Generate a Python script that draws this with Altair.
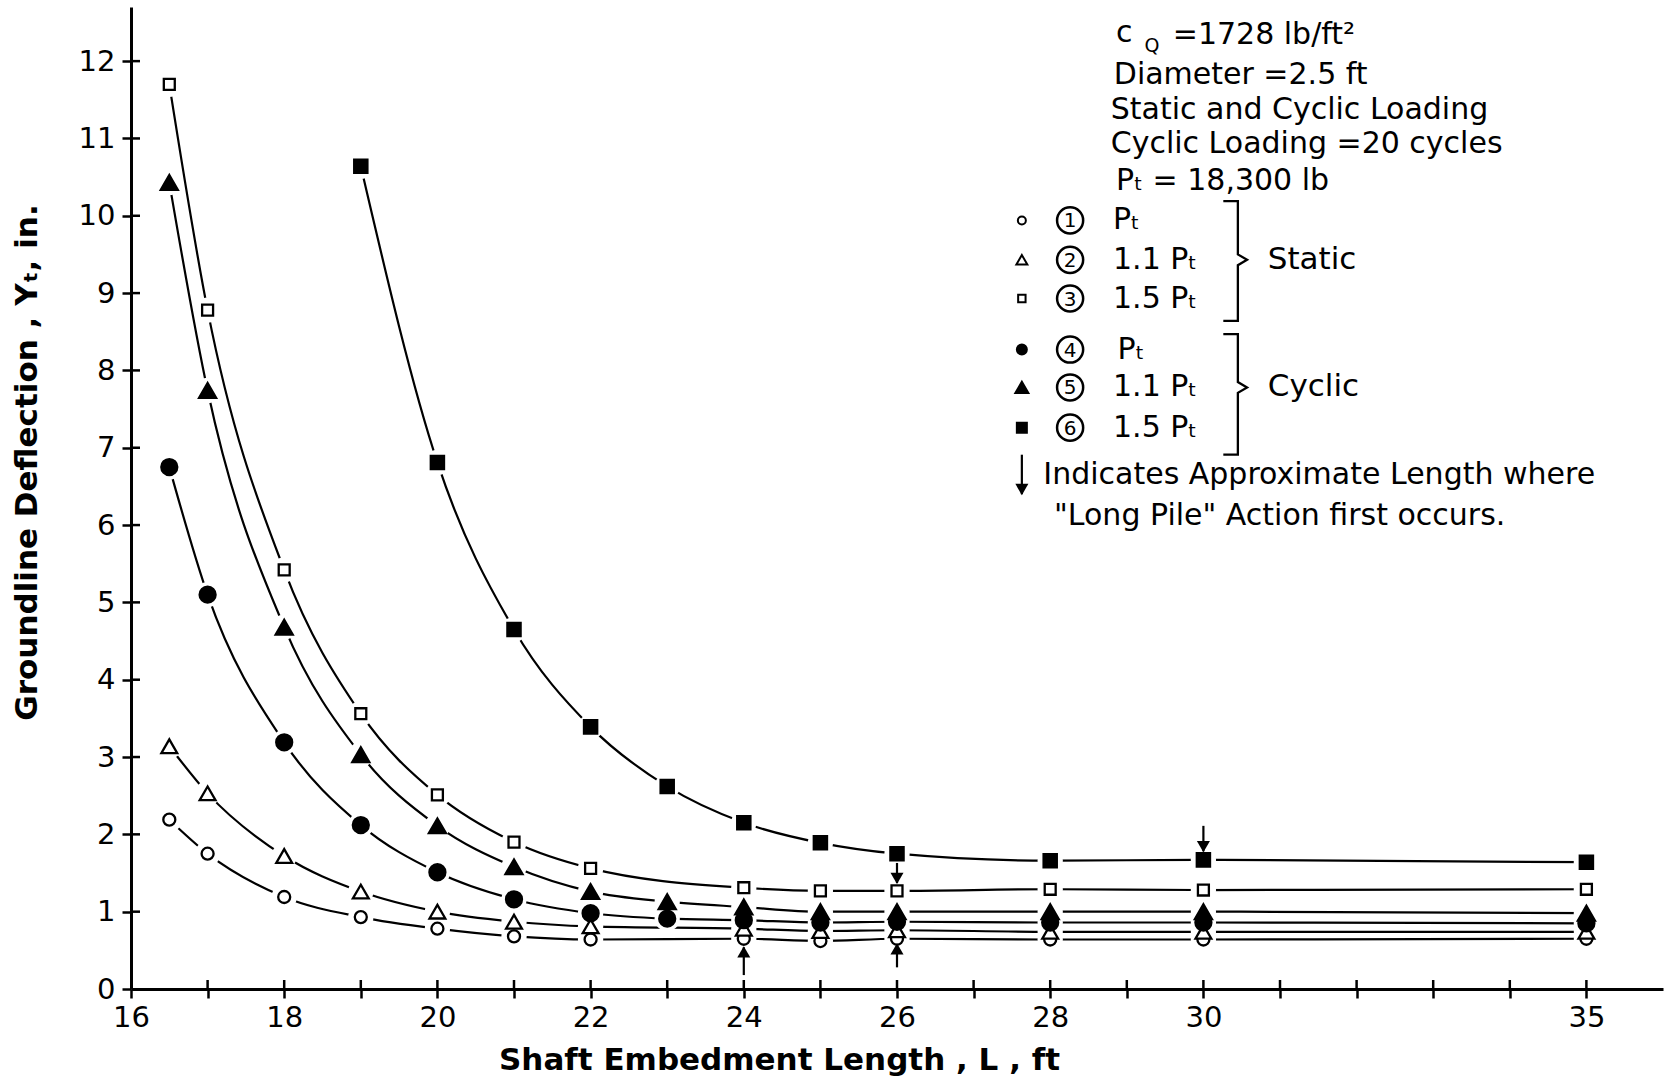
import altair as alt
import pandas as pd

# ---------------- data ----------------
L_S1 = [16.5, 17, 18, 19, 20, 21, 22, 24, 25, 26, 28, 30, 35]
Y_S1 = [2.19, 1.75, 1.19, 0.93, 0.78, 0.68, 0.64, 0.65, 0.62, 0.65, 0.64, 0.64, 0.65]
L_S2 = [16.5, 17, 18, 19, 20, 21, 22, 24, 25, 26, 28, 30, 35]
Y_S2 = [3.14, 2.53, 1.72, 1.26, 1.00, 0.87, 0.81, 0.78, 0.75, 0.76, 0.74, 0.74, 0.74]
L_S3 = [16.5, 17, 18, 19, 20, 21, 22, 24, 25, 26, 28, 30, 35]
Y_S3 = [11.70, 8.78, 5.42, 3.56, 2.51, 1.90, 1.56, 1.31, 1.27, 1.27, 1.29, 1.28, 1.29]
L_S4 = [16.5, 17, 18, 19, 20, 21, 22, 23, 24, 25, 26, 28, 30, 35]
Y_S4 = [6.75, 5.10, 3.19, 2.12, 1.51, 1.16, 0.98, 0.91, 0.89, 0.86, 0.87, 0.86, 0.86, 0.85]
L_S5 = [16.5, 17, 18, 19, 20, 21, 22, 23, 24, 25, 26, 28, 30, 35]
Y_S5 = [10.43, 7.74, 4.68, 3.03, 2.11, 1.58, 1.26, 1.13, 1.06, 1.00, 1.00, 1.00, 1.00, 0.98]
L_S6 = [19, 20, 21, 22, 23, 24, 25, 26, 28, 30, 35]
Y_S6 = [10.64, 6.81, 4.65, 3.39, 2.62, 2.15, 1.89, 1.75, 1.66, 1.67, 1.64]

SERIES = ["1", "2", "3", "4", "5", "6"]
SERIES_L = [L_S1, L_S2, L_S3, L_S4, L_S5, L_S6]
SERIES_Y = [Y_S1, Y_S2, Y_S3, Y_S4, Y_S5, Y_S6]
SHAPES = ["circle", "triangle-up", "square", "circle", "triangle-up", "square"]
FILLS = ["white", "white", "white", "black", "black", "black"]
SIZES = [144, 250, 120, 256, 290, 175]
LEG_SIZES = [64, 120, 55, 100, 170, 100]

# "long pile" arrows: x, tail, tip
ARROW_L = [24, 26, 26, 30, 27.63]
ARROW_TAIL = [0.18, 1.63, 0.28, 2.11, 6.91]
ARROW_TIP = [0.54, 1.37, 0.58, 1.78, 6.40]

X_TICKS = list(range(16, 36))
X_LABELED = [16, 18, 20, 22, 24, 26, 28, 30, 35]
Y_TICKS = list(range(0, 13))

# annotation text (position in data units)
NOTE_TEXT = ["c", "=1728 lb/ft²", "Diameter =2.5 ft", "Static and Cyclic Loading",
             "Cyclic Loading =20 cycles", "Pₜ = 18,300 lb",
             "Pₜ", "1.1 Pₜ", "1.5 Pₜ", "Pₜ", "1.1 Pₜ", "1.5 Pₜ",
             "Indicates Approximate Length where", "\"Long Pile\" Action first occurs."]
NOTE_L = [28.86, 29.60, 28.83, 28.79, 28.79, 28.86,
          28.82, 28.82, 28.82, 28.88, 28.82, 28.82,
          27.91, 28.05]
NOTE_Y = [12.36, 12.34, 11.82, 11.37, 10.93, 10.45,
          9.94, 9.43, 8.93, 8.27, 7.78, 7.26,
          6.65, 6.12]
GROUP_TEXT = ["Static", "Cyclic"]
GROUP_L = [30.84, 30.84]
GROUP_Y = [9.43, 7.78]
SUB_TEXT = ["Q"]
SUB_L = [29.23]
SUB_Y = [12.19]

LEG_Y = [9.94, 9.43, 8.93, 8.27, 7.78, 7.26]
LEG_SYM_L = 27.63
LEG_NUM_L = 28.26
LEG_NUM = ["1", "2", "3", "4", "5", "6"]

BRACE_ID = ["s"] * 7 + ["c"] * 7
BRACE_L = [30.26, 30.45, 30.45, 30.57, 30.45, 30.45, 30.26] * 2
BRACE_Y = [10.19, 10.19, 9.50, 9.43, 9.36, 8.64, 8.64,
           8.47, 8.47, 7.85, 7.78, 7.71, 6.91, 6.91]

# ---------------- tables ----------------
rows = []
for s, ls, ys, sh, fi, si in zip(SERIES, SERIES_L, SERIES_Y, SHAPES, FILLS, SIZES):
    for l, y in zip(ls, ys):
        rows.append({"series": s, "L": l, "Y": y, "shape": sh, "fill": fi, "size": si})
df = pd.DataFrame(rows)

leg = pd.DataFrame({"L": [LEG_SYM_L] * 6, "Y": LEG_Y, "shape": SHAPES, "fill": FILLS,
                    "size": LEG_SIZES})
num = pd.DataFrame({"L": [LEG_NUM_L] * 6, "Y": LEG_Y, "t": LEG_NUM})

arr = pd.DataFrame({"L": ARROW_L, "Y": ARROW_TAIL, "Y2": ARROW_TIP})
heads = pd.DataFrame({
    "L": ARROW_L,
    "Y": [t - 0.06 if t > a else t + 0.06 for a, t in zip(ARROW_TAIL, ARROW_TIP)],
    "shape": ["triangle-up" if t > a else "triangle-down" for a, t in zip(ARROW_TAIL, ARROW_TIP)],
})

notes = pd.DataFrame({"L": NOTE_L, "Y": NOTE_Y, "t": NOTE_TEXT})
groups = pd.DataFrame({"L": GROUP_L, "Y": GROUP_Y, "t": GROUP_TEXT})
subs = pd.DataFrame({"L": SUB_L, "Y": SUB_Y, "t": SUB_TEXT})
brace = pd.DataFrame({"b": BRACE_ID, "L": BRACE_L, "Y": BRACE_Y,
                      "o": list(range(7)) * 2})
xt = pd.DataFrame({"L": X_TICKS[1:]})
yt = pd.DataFrame({"Y": Y_TICKS[1:]})

W, H = 1532, 982
FONT = "DejaVu Sans"

xscale = alt.Scale(domain=[16, 36], nice=False, zero=False)
yscale = alt.Scale(domain=[0, 12.7], nice=False, zero=False)

label_expr = "indexof(" + str(X_LABELED) + ", datum.value) >= 0 ? datum.label : ''"

XT = "Shaft Embedment Length , L , ft"
YT = "Groundline Deflection , Yₜ, in."
XAX = alt.Axis(
    values=X_TICKS, labelExpr=label_expr, title=XT,
    titleX=648, titleY=71, titleAlign="center", titleBaseline="middle",
    labelFlush=False, labelOverlap=False, grid=False, labelPadding=5)
YAX = alt.Axis(
    values=Y_TICKS, title=YT, format="d",
    titleX=-104, titleY=455, titleAngle=270, titleAlign="center", titleBaseline="middle",
    labelFlush=False, labelOverlap=False, grid=False, labelPadding=7)

X = alt.X("L:Q", scale=xscale, axis=XAX, title=XT)
Y = alt.Y("Y:Q", scale=yscale, axis=YAX, title=YT)

lines = alt.Chart(df).mark_line(color="black", strokeWidth=2.2, interpolate="monotone").encode(
    x=X, y=Y, detail="series:N")

halo = alt.Chart(df).mark_point(filled=True, fill="white", shape="circle", size=640,
                                opacity=1, strokeWidth=0).encode(x=X, y=Y)

markers = alt.Chart(df).mark_point(filled=True, stroke="black", strokeWidth=2.3, opacity=1).encode(
    x=X, y=Y,
    shape=alt.Shape("shape:N", scale=None),
    fill=alt.Fill("fill:N", scale=None),
    size=alt.Size("size:Q", scale=None))

arrow_shaft = alt.Chart(arr).mark_rule(color="black", strokeWidth=2.2).encode(
    x=X, y=Y, y2="Y2:Q")
arrow_head = alt.Chart(heads).mark_point(filled=True, color="black", opacity=1, size=170).encode(
    x=X, y=Y, shape=alt.Shape("shape:N", scale=None))

xticks_in = alt.Chart(xt).mark_rule(color="black", strokeWidth=2.5).encode(
    x=X, y=alt.value(H), y2=alt.value(H - 9))
yticks_in = alt.Chart(yt).mark_rule(color="black", strokeWidth=2.5).encode(
    y=Y, x=alt.value(0), x2=alt.value(9))

leg_sym = alt.Chart(leg).mark_point(filled=True, stroke="black", strokeWidth=2, opacity=1).encode(
    x=X, y=Y,
    shape=alt.Shape("shape:N", scale=None),
    fill=alt.Fill("fill:N", scale=None),
    size=alt.Size("size:Q", scale=None))
num_circ = alt.Chart(num).mark_point(shape="circle", size=680, stroke="black", strokeWidth=2.5,
                                     filled=False, opacity=1).encode(x=X, y=Y)
num_txt = alt.Chart(num).mark_text(font=FONT, fontSize=20, color="black", align="center",
                                   baseline="middle", dy=1).encode(x=X, y=Y, text="t:N")

note_txt = alt.Chart(notes).mark_text(font=FONT, fontSize=30, color="black", align="left",
                                      baseline="middle").encode(x=X, y=Y, text="t:N")
group_txt = alt.Chart(groups).mark_text(font=FONT, fontSize=31, color="black", align="left",
                                        baseline="middle").encode(x=X, y=Y, text="t:N")
sub_txt = alt.Chart(subs).mark_text(font=FONT, fontSize=19, color="black", align="left",
                                    baseline="middle").encode(x=X, y=Y, text="t:N")
brace_lines = alt.Chart(brace).mark_line(color="black", strokeWidth=2.3).encode(
    x=X, y=Y, detail="b:N", order="o:Q")

chart = alt.layer(
    lines, halo, markers, arrow_shaft, arrow_head, xticks_in, yticks_in,
    leg_sym, num_circ, num_txt, note_txt, group_txt, sub_txt, brace_lines
).properties(
    width=W, height=H,
    autosize=alt.AutoSizeParams(type="none"),
    padding={"left": 131, "top": 7, "right": 15, "bottom": 92},
    background="white",
).configure_view(stroke=None).configure_axis(
    domainColor="black", domainWidth=3, tickColor="black", tickWidth=2.5, tickSize=9,
    labelFont=FONT, labelFontSize=29, labelColor="black",
    titleFont=FONT, titleFontSize=31, titleFontWeight="bold", titleColor="black",
)

chart.save("out.html", embed_options={"renderer": "svg", "actions": False})
